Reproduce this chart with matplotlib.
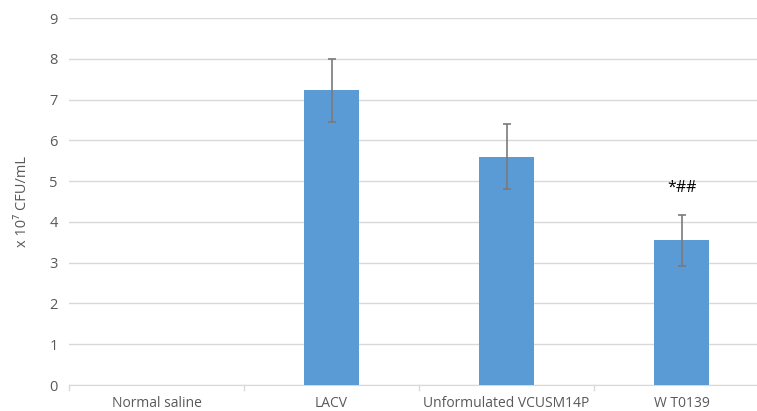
import matplotlib
matplotlib.use("Agg")
import matplotlib.pyplot as plt
import numpy as np

categories = ["Normal saline", "LACV", "Unformulated VCUSM14P", "W T0139"]
values = [0.01, 7.23, 5.60, 3.55]
err_low = [0.0, 6.45, 4.80, 2.92]
err_high = [0.02, 8.00, 6.40, 4.18]
yticks = [0, 1, 2, 3, 4, 5, 6, 7, 8, 9]
annotation = "*##"
annot_y = 4.83

plt.rcParams['font.family'] = ['Open Sans', 'DejaVu Sans']

W, H = 757, 411
fig = plt.figure(figsize=(W/100, H/100), dpi=100)
left, right = 69, 769
bottom, top = 385, 18
ax = fig.add_axes([left/W, (H-bottom)/H, (right-left)/W, (bottom-top)/H])

x = np.arange(len(categories))
vals = np.array(values)
lo = vals - np.array(err_low)
hi = np.array(err_high) - vals
ax.bar(x, vals, width=0.315, color="#5B9BD5", zorder=3)
mask = x > 0
ax.errorbar(x[mask], vals[mask], yerr=[lo[mask], hi[mask]], fmt='none',
            ecolor="#7a7a7a", elinewidth=1.2, capsize=3, capthick=1.2, zorder=4)

ax.set_xlim(-0.5, len(categories) - 0.5)
ax.set_ylim(0, 9)
ax.set_yticks(yticks)
ax.set_yticklabels([str(t) for t in yticks], fontsize=10.5, color="#595959")
ax.yaxis.grid(True, color="#d9d9d9", linewidth=1, zorder=0)
ax.set_axisbelow(True)
ax.tick_params(axis='y', length=0, pad=8)

ax.set_xticks(x)
ax.set_xticklabels(categories, fontsize=10, color="#595959")
ax.tick_params(axis='x', length=0, pad=8)
for b in np.arange(-0.5, len(categories), 1.0):
    ax.plot([b, b], [0, -0.13], color="#d9d9d9", linewidth=1, clip_on=False)

for s in ["top", "right", "left"]:
    ax.spines[s].set_visible(False)
ax.spines["bottom"].set_color("#d9d9d9")

ax.set_ylabel("x 10\u2077 CFU/mL", fontsize=10.5, color="#595959", labelpad=14)
ax.text(3, annot_y, annotation, ha='center', va='center', fontsize=11.5, color="black")

fig.savefig("out.png", dpi=100)
